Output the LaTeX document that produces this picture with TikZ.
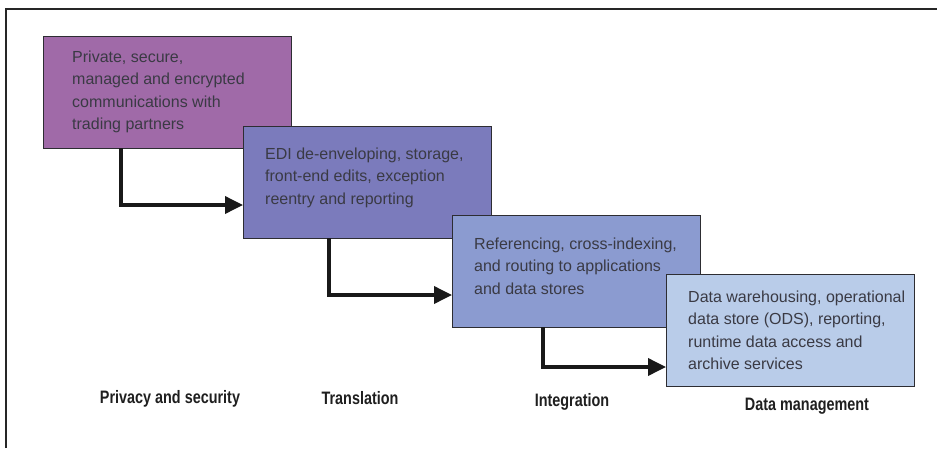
\documentclass[tikz,border=0pt]{standalone}
\usepackage{fontspec}
\setmainfont{Liberation Sans}
\newfontfamily\lblfont[FakeStretch=0.8]{Liberation Sans}
\usetikzlibrary{arrows.meta}
\definecolor{privacy}{RGB}{160,106,168}
\definecolor{translation}{RGB}{123,123,188}
\definecolor{integration}{RGB}{139,155,208}
\definecolor{datamgmt}{RGB}{185,204,233}
\definecolor{boxtext}{RGB}{58,58,68}
\definecolor{edge}{RGB}{45,45,50}
\tikzset{
  stage/.style={draw=edge, line width=1.3pt, anchor=north west, inner sep=0,
    minimum width=248pt, minimum height=112pt},
  stagetext/.style={anchor=base west, inner sep=0, text=boxtext,
    font=\fontsize{16}{22.5}\selectfont},
  steplabel/.style={anchor=base, inner sep=0, text=black!88,
    font=\lblfont\bfseries\fontsize{18}{20}\selectfont},
  flow/.style={line width=3.6pt, draw=black!90,
    -{Triangle[length=18pt,width=17pt]}}
}
\begin{document}
\begin{tikzpicture}[x=1pt,y=-1pt]
\useasboundingbox (0,0) rectangle (937,448);
% frame
\draw[line width=1.6pt, draw=black!85] (6,448) -- (6,9) -- (937,9);
% stages
\node[stage, fill=privacy] (b1) at (43,36) {};
\node[stagetext] (t1) at (72,62) {\parbox[t]{220pt}{Private, secure,\\managed and encrypted\\communications with\\trading partners}};
\node[stage, fill=translation] (b2) at (243,126) {};
\node[stagetext] (t2) at (265,159) {\parbox[t]{226pt}{EDI de-enveloping, storage,\\front-end edits, exception\\reentry and reporting}};
\node[stage, fill=integration] (b3) at (452,215) {};
\node[stagetext] (t3) at (474,249) {\parbox[t]{226pt}{Referencing, cross-indexing,\\and routing to applications\\and data stores}};
\node[stage, fill=datamgmt] (b4) at (666,274) {};
\node[stagetext] (t4) at (688,302) {\parbox[t]{226pt}{Data warehousing, operational\\data store (ODS), reporting,\\runtime data access and\\archive services}};
% arrows
\coordinate (a1) at (121,148);
\coordinate (e1) at (243,205);
\coordinate (a2) at (329,238);
\coordinate (e2) at (452,295);
\coordinate (a3) at (543,327);
\coordinate (e3) at (666,367);
\draw[flow] (a1) |- (e1);
\draw[flow] (a2) |- (e2);
\draw[flow] (a3) |- (e3);
% labels
\node[steplabel] (l1) at (170,403) {Privacy and security};
\node[steplabel] (l2) at (360,404) {Translation};
\node[steplabel] (l3) at (572,406) {Integration};
\node[steplabel] (l4) at (807,410) {Data management};
\end{tikzpicture}
\end{document}
